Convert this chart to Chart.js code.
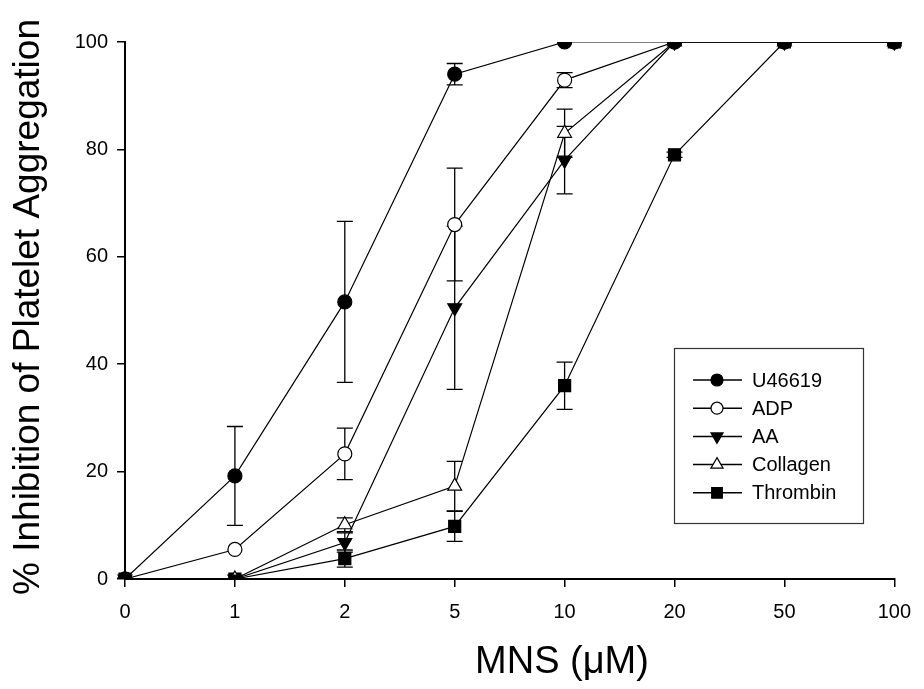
<!DOCTYPE html>
<html lang="en">
<head>
<meta charset="UTF-8">
<title>MNS platelet aggregation</title>
<style>
  body { margin: 0; background: #fff; }
  #chart { display: block; }
</style>
</head>
<body>
<script src="https://cdn.jsdelivr.net/npm/chart.js"></script>
<canvas id="chart" width="924" height="689"></canvas>
<script>
// doses (uM), equally spaced on the axis
const doses = ['0', '1', '2', '5', '10', '20', '50', '100'];

const u46619 = [0, 19.2, 51.6, 94, 100, 100, 100, 100];
const u46619Err = [0, 9.2, 15, 2, 0, 0, 0, 0];
const adp = [0, 5.5, 23.3, 66, 92.9, 100, 100, 100];
const adpErr = [0, 0, 4.8, 10.5, 1.4, 0, 0, 0];
const aa = [0, 0, 6.8, 50.5, 78, 100, 100, 100];
const aaErr = [0, 0, 1.8, 15.2, 6.3, 0, 0, 0];
const collagen = [0, 0, 10.1, 17.3, 83, 100, 100, 100];
const collagenErr = [0, 0, 1.3, 4.6, 4.5, 0, 0, 0];
const thrombin = [0, 0, 3.8, 9.8, 36, 79, 100, 100];
const thrombinErr = [0, 0, 1.6, 2.8, 4.4, 0.5, 0, 0];

const FONT = '"Liberation Sans", Arial, sans-serif';

function series(label, values, errs, style, fill, radius, rot) {
  return {
    label: label,
    data: values,
    errors: errs,
    borderColor: '#000',
    borderWidth: 1.2,
    backgroundColor: fill,
    pointBackgroundColor: fill,
    pointBorderColor: '#000',
    pointBorderWidth: 1.2,
    pointStyle: style,
    pointRadius: radius,
    pointHoverRadius: radius,
    pointRotation: rot || 0,
    tension: 0,
    fill: false
  };
}

// error bars, drawn under the markers
const errorBars = {
  id: 'errorBars',
  beforeDatasetsDraw(chart) {
    const ctx = chart.ctx;
    const y = chart.scales.y;
    ctx.save();
    ctx.strokeStyle = '#000';
    ctx.lineWidth = 1.3;
    chart.data.datasets.forEach((ds, i) => {
      const meta = chart.getDatasetMeta(i);
      meta.data.forEach((pt, j) => {
        const e = ds.errors[j];
        if (!e) return;
        const top = y.getPixelForValue(ds.data[j] + e);
        const bot = y.getPixelForValue(ds.data[j] - e);
        ctx.beginPath();
        ctx.moveTo(pt.x, top); ctx.lineTo(pt.x, bot);
        ctx.moveTo(pt.x - 8, top); ctx.lineTo(pt.x + 8, top);
        ctx.moveTo(pt.x - 8, bot); ctx.lineTo(pt.x + 8, bot);
        ctx.stroke();
      });
    });
    ctx.restore();
  }
};

// axis titles and the boxed legend inside the plot
const decorations = {
  id: 'decorations',
  afterDraw(chart) {
    const ctx = chart.ctx;
    ctx.save();
    ctx.fillStyle = '#000';
    ctx.font = '38px ' + FONT;
    ctx.textAlign = 'center';
    ctx.textBaseline = 'alphabetic';
    ctx.fillText('MNS (\u03bcM)', 562, 673);

    ctx.translate(39, 307);
    ctx.rotate(-Math.PI / 2);
    ctx.font = '37px ' + FONT;
    ctx.fillText('% Inhibition of Platelet Aggregation', 0, 0);
    ctx.restore();

    // legend
    ctx.save();
    ctx.strokeStyle = '#333';
    ctx.lineWidth = 1.2;
    ctx.strokeRect(674.5, 348.5, 189, 175);
    ctx.font = '20px ' + FONT;
    ctx.textAlign = 'left';
    ctx.textBaseline = 'middle';
    chart.data.datasets.forEach((ds, i) => {
      const yy = 380 + i * 28.2;
      ctx.strokeStyle = '#000';
      ctx.lineWidth = 1.5;
      ctx.beginPath();
      ctx.moveTo(693, yy); ctx.lineTo(742, yy);
      ctx.stroke();
      ctx.fillStyle = ds.pointBackgroundColor;
      ctx.lineWidth = 1.2;
      Chart.helpers.drawPoint(ctx, {
        pointStyle: ds.pointStyle,
        rotation: ds.pointRotation,
        radius: ds.pointRadius - 1,
        borderWidth: 1.2
      }, 717, yy);
      ctx.fillStyle = '#000';
      ctx.fillText(ds.label, 752, yy + 1);
    });
    ctx.restore();
  }
};

new Chart(document.getElementById('chart'), {
  type: 'line',
  data: {
    labels: doses,
    datasets: [
      series('U46619', u46619, u46619Err, 'circle', '#000', 7),
      series('ADP', adp, adpErr, 'circle', '#fff', 7),
      series('AA', aa, aaErr, 'triangle', '#000', 8, 180),
      series('Collagen', collagen, collagenErr, 'triangle', '#fff', 8),
      series('Thrombin', thrombin, thrombinErr, 'rect', '#000', 8.5)
    ]
  },
  options: {
    responsive: false,
    animation: false,
    layout: { padding: { top: 42, right: 29, left: 0, bottom: 0 } },
    plugins: {
      legend: { display: false },
      tooltip: { enabled: false }
    },
    scales: {
      x: {
        type: 'category',
        offset: false,
        grid: { drawOnChartArea: false, drawTicks: true, tickLength: 8, color: '#000', lineWidth: 1.5 },
        border: { color: '#000', width: 2 },
        ticks: { color: '#000', padding: 13, maxRotation: 0, font: { size: 20, family: FONT } },
        afterFit(scale) { scale.height = 110; }
      },
      y: {
        min: 0,
        max: 100,
        grid: { drawOnChartArea: false, drawTicks: true, tickLength: 8, color: '#000', lineWidth: 1.5 },
        border: { color: '#000', width: 2 },
        ticks: { stepSize: 20, color: '#000', padding: 9, font: { size: 20, family: FONT } },
        afterFit(scale) { scale.width = 125; }
      }
    }
  },
  plugins: [errorBars, decorations]
});
</script>
</body>
</html>
